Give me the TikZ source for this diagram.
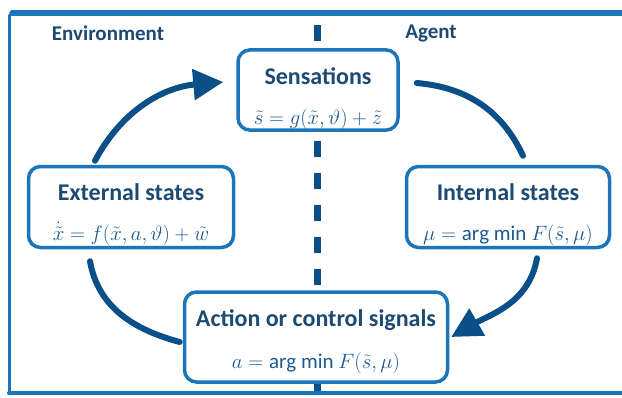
\documentclass[tikz,border=0pt]{standalone}
\usepackage{fontspec}
\setmainfont{Carlito}
\usetikzlibrary{arrows.meta}
\definecolor{frameblue}{HTML}{1B75B8}
\definecolor{flowblue}{HTML}{0B4F88}
\definecolor{textblue}{HTML}{1C4A72}
\definecolor{mathblue}{HTML}{1F5A8F}
\newcommand{\headtitle}[1]{{\fontsize{21}{24}\selectfont\bfseries\color{textblue}#1}}
\newcommand{\boxtitle}[2]{\rule{0pt}{#1pt}{\fontsize{24}{28}\selectfont\bfseries\color{textblue}#2}}
\newcommand{\boxmath}[1]{{\fontsize{21}{25}\selectfont\color{mathblue}$#1$}}
\begin{document}
\begin{tikzpicture}[x=1pt, y=1pt, line join=round, line cap=round, >={Triangle[length=30pt,width=30pt]},
  box/.style={draw=frameblue, line width=3.5pt, rounded corners=12pt, fill=white, align=center,
    inner sep=0pt, font=\fontsize{22}{26}\selectfont},
  flow/.style={draw=flowblue, line width=6pt},
  frame/.style={draw=frameblue}]
\useasboundingbox (0,0) rectangle (622,-397);
% dashed divider between environment and agent
\foreach \y in {25,141,173,...,269,379}
  \draw[flowblue, line width=7pt, line cap=butt] (317,-\y) -- ++(0,-16);
% frame
\draw[frame, line width=5.5pt] (12,-13) -- (622,-13);
\draw[frame, line width=3pt] (9,-15) -- (9,-393);
\draw[frame, line width=4pt] (9,-393) -- (622,-393);
% headings
\node (env) at (108,-33) {\headtitle{Environment}};
\node (agent) at (431,-33) {\headtitle{Agent}};
% states
\node[box, minimum width=160pt, minimum height=75pt] (sens) at (318,-90)
  {\boxtitle{35}{Sensations}\\[14pt] \boxmath{\tilde{s} = g(\tilde{x},\vartheta) + \tilde{z}}};
\node[box, minimum width=205pt, minimum height=81pt] (ext) at (131,-207)
  {\boxtitle{32}{External states}\\[14pt] \boxmath{\dot{\tilde{x}} = f(\tilde{x},a,\vartheta) + \tilde{w}}};
\node[box, minimum width=203pt, minimum height=81pt] (int) at (508,-207)
  {\boxtitle{32}{Internal states}\\[14pt] \boxmath{\mu = \mathrm{arg\ min}\ F(\tilde{s},\mu)}};
\node[box, minimum width=263pt, minimum height=90pt] (act) at (316,-337)
  {\boxtitle{26}{Action or control signals}\\[16pt] \boxmath{a = \mathrm{arg\ min}\ F(\tilde{s},\mu)}};
% cycle
\draw[flow, ->] ([xshift=-36pt,yshift=4pt]ext.north) to[out=62,in=185] ([xshift=-13pt,yshift=8pt]sens.west);
\draw[flow] ([xshift=17pt,yshift=7pt]sens.east) to[out=-5,in=115] ([xshift=15pt,yshift=9pt]int.north);
\draw[flow, ->] ([xshift=29pt,yshift=-9pt]int.south) to[out=-100,in=30] ([xshift=2pt]act.east);
\draw[flow] ([xshift=-41pt,yshift=-12pt]ext.south) to[out=-80,in=165] ([xshift=-3pt,yshift=-5pt]act.west);
\end{tikzpicture}
\end{document}
